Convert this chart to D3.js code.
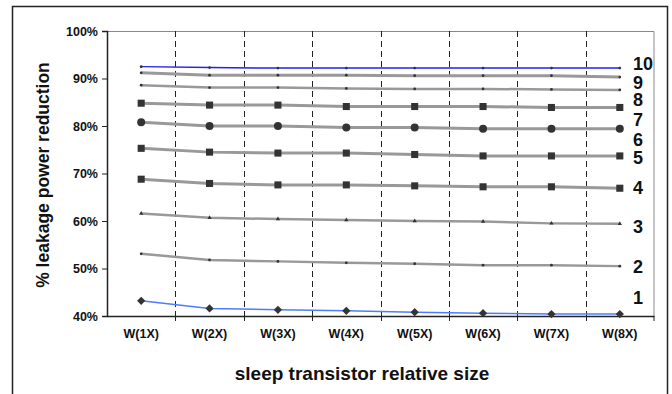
<!DOCTYPE html>
<html>
<head>
<meta charset="utf-8">
<script src="https://cdn.jsdelivr.net/npm/d3@7"></script>
<style>
  body { margin: 0; background: #fff; }
  text { font-family: "Liberation Sans", Arial, sans-serif; font-weight: bold; fill: #111; }
</style>
</head>
<body>
<div id="chart-area"></div>
<script>
var sizes = ["W(1X)", "W(2X)", "W(3X)", "W(4X)", "W(5X)", "W(6X)", "W(7X)", "W(8X)"];
var yTicks = [40, 50, 60, 70, 80, 90, 100];

var s1  = [43.2, 41.6, 41.3, 41.1, 40.8, 40.6, 40.4, 40.4];
var s2  = [53.1, 51.8, 51.5, 51.2, 51.0, 50.7, 50.7, 50.5];
var s3  = [61.6, 60.7, 60.4, 60.2, 60.0, 59.9, 59.5, 59.4];
var s4  = [68.8, 67.9, 67.6, 67.6, 67.4, 67.2, 67.2, 66.9];
var s5  = [75.3, 74.5, 74.3, 74.3, 74.0, 73.7, 73.7, 73.7];
var s6  = [80.8, 80.0, 80.0, 79.7, 79.7, 79.4, 79.4, 79.4];
var s7  = [84.8, 84.4, 84.4, 84.1, 84.1, 84.1, 83.9, 83.9];
var s8  = [88.6, 88.1, 88.1, 87.9, 87.8, 87.8, 87.7, 87.6];
var s9  = [91.2, 90.7, 90.7, 90.7, 90.6, 90.6, 90.6, 90.3];
var s10 = [92.5, 92.3, 92.2, 92.2, 92.2, 92.2, 92.2, 92.2];

var series = [
  {name: "1",  values: s1,  color: "#4d7cff", width: 1.5, marker: "diamond"},
  {name: "2",  values: s2,  color: "#999",    width: 2.5, marker: "dot"},
  {name: "3",  values: s3,  color: "#999",    width: 2.5, marker: "triangle"},
  {name: "4",  values: s4,  color: "#999",    width: 3,   marker: "square"},
  {name: "5",  values: s5,  color: "#999",    width: 3,   marker: "square"},
  {name: "6",  values: s6,  color: "#999",    width: 3,   marker: "circle"},
  {name: "7",  values: s7,  color: "#999",    width: 3,   marker: "square"},
  {name: "8",  values: s8,  color: "#999",    width: 2.5, marker: "dot"},
  {name: "9",  values: s9,  color: "#999",    width: 3,   marker: "dot"},
  {name: "10", values: s10, color: "#2222ee", width: 1.5, marker: "dot"}
];
var labelY = {"10": 64, "9": 83, "8": 100, "7": 120, "6": 140, "5": 158, "4": 188, "3": 227, "2": 267, "1": 298};

var margin = {left: 107, right: 18, top: 31, bottom: 78};
var width = 672 - margin.left - margin.right,
    height = 394 - margin.top - margin.bottom;

var svg = d3.select("#chart-area")
  .append("svg")
    .attr("width", 672)
    .attr("height", 394);

// outer frame
svg.append("rect")
  .attr("x", 12.5).attr("y", 6.5)
  .attr("width", 655).attr("height", 400)
  .attr("fill", "none").attr("stroke", "#222").attr("stroke-width", 1.5);

var g = svg.append("g")
  .attr("transform", "translate(" + margin.left + "," + margin.top + ")");

var x = d3.scaleBand()
  .domain(sizes)
  .range([0, width]);

var y = d3.scaleLinear()
  .domain([40, 100])
  .range([height, 0]);

// plot border top / right
g.append("path")
  .attr("d", "M0,0.5H" + width + "V" + height)
  .attr("fill", "none").attr("stroke", "#888").attr("stroke-width", 1);

// dashed verticals between categories
g.selectAll(".vgrid")
  .data(sizes.slice(1))
  .enter().append("line")
    .attr("class", "vgrid")
    .attr("x1", function(d){ return Math.round(x(d)) + 0.5; })
    .attr("x2", function(d){ return Math.round(x(d)) + 0.5; })
    .attr("y1", 0).attr("y2", height)
    .attr("stroke", "#222").attr("stroke-width", 1)
    .attr("stroke-dasharray", "6,4");

var xAxis = g.append("g")
  .attr("transform", "translate(0," + height + ")")
  .call(d3.axisBottom(x).tickSize(0).tickPadding(13));
xAxis.select(".domain").attr("stroke", "#222").attr("stroke-width", 1.5);
xAxis.selectAll("text").attr("font-size", 12.5).attr("font-family", null).attr("fill", "#111");
xAxis.selectAll(".btick")
  .data(sizes.slice(1).concat(["end"]))
  .enter().append("line")
    .attr("x1", function(d){ return d === "end" ? width : Math.round(x(d)) + 0.5; })
    .attr("x2", function(d){ return d === "end" ? width : Math.round(x(d)) + 0.5; })
    .attr("y1", 0).attr("y2", 5)
    .attr("stroke", "#222");

var yAxis = g.append("g")
  .call(d3.axisLeft(y).tickValues(yTicks).tickSize(5).tickPadding(4)
    .tickFormat(function(d){ return d + "%"; }));
yAxis.select(".domain").attr("stroke", "#222").attr("stroke-width", 1.5);
yAxis.selectAll(".tick line").attr("stroke", "#222");
yAxis.selectAll("text").attr("font-size", 12.5).attr("font-family", null).attr("fill", "#111");

var line = d3.line()
  .x(function(d, i){ return x(sizes[i]) + x.bandwidth() / 2; })
  .y(function(d){ return y(d); });

series.forEach(function(s) {
  g.append("path")
    .datum(s.values)
    .attr("fill", "none")
    .attr("stroke", s.color)
    .attr("stroke-width", s.width)
    .attr("d", line);

  var sym = {
    square: d3.symbol().type(d3.symbolSquare).size(50),
    circle: d3.symbol().type(d3.symbolCircle).size(50),
    diamond: d3.symbol().type(d3.symbolSquare).size(34),
    triangle: d3.symbol().type(d3.symbolTriangle).size(8),
    dot: d3.symbol().type(d3.symbolCircle).size(6)
  }[s.marker];
  var rot = s.marker === "diamond" ? " rotate(45)" : "";

  g.selectAll(null)
    .data(s.values)
    .enter().append("path")
      .attr("d", sym)
      .attr("fill", "#333")
      .attr("transform", function(d, i){
        return "translate(" + (x(sizes[i]) + x.bandwidth() / 2) + "," + y(d) + ")" + rot;
      });
});

// series labels at the right
svg.selectAll(".slabel")
  .data(series)
  .enter().append("text")
    .attr("x", 633)
    .attr("y", function(d){ return labelY[d.name]; })
    .attr("dy", "0.35em")
    .attr("font-size", 18)
    .text(function(d){ return d.name; });

svg.append("text")
  .attr("transform", "translate(49," + 175 + ") rotate(-90)")
  .attr("text-anchor", "middle")
  .attr("font-size", 17.5)
  .text("% leakage power reduction");

svg.append("text")
  .attr("x", 362).attr("y", 380)
  .attr("text-anchor", "middle")
  .attr("font-size", 19)
  .text("sleep transistor relative size");
</script>
</body>
</html>
